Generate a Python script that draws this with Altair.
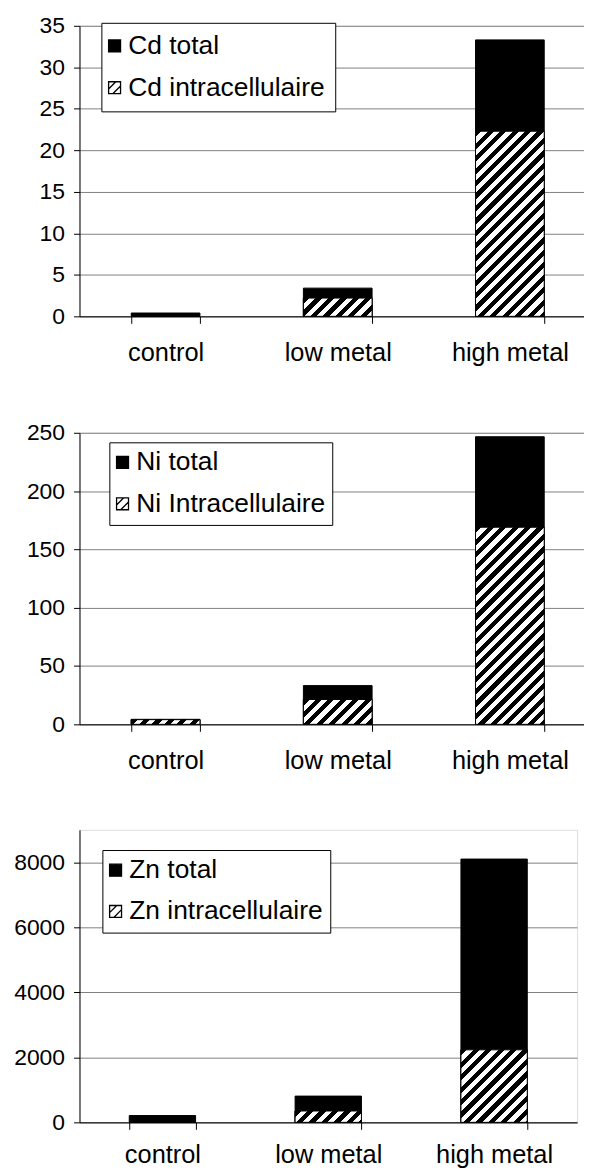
import altair as alt

# ---------------- data ----------------
categories = ["control", "low metal", "high metal"]

cd_total = [0.4, 3.4, 33.3]
cd_intra = [0.0, 2.2, 22.3]
cd_labels = ["Cd total", "Cd intracellulaire"]
cd_ticks = [0, 5, 10, 15, 20, 25, 30, 35]

ni_total = [4.3, 33.2, 246.6]
ni_intra = [4.0, 21.3, 169.0]
ni_labels = ["Ni total", "Ni Intracellulaire"]
ni_ticks = [0, 50, 100, 150, 200, 250]

zn_total = [210, 808, 8100]
zn_intra = [0, 350, 2232]
zn_labels = ["Zn total", "Zn intracellulaire"]
zn_ticks = [0, 2000, 4000, 6000, 8000]

FONT = "Liberation Sans"
HATCH_SYMBOL = "M-1,-1H1V1H-1Z M-1,0.2L0.2,-1 M-0.3,1L1,-0.3"


def hatch_fill(w, h, period=12.5):
    """Diagonal '/' stripes as a hard-stop linear gradient for a w x h rect."""
    L = w + h
    c = L / (w * w + h * h)
    stops = []
    pos, black, half = 0.0, True, period / 2.0
    while pos < L - 1e-9:
        nxt = min(pos + half, L)
        col = "black" if black else "white"
        stops.append({"offset": round(pos / L, 5), "color": col})
        stops.append({"offset": round(nxt / L, 5), "color": col})
        pos, black = nxt, not black
    return {"gradient": "linear", "x1": 0, "y1": 0,
            "x2": round(c * w, 5), "y2": round(c * h, 5), "stops": stops}


def panel(total, intra, labels, dmax, ticks, width, height, lx, ly,
          step, p_in, p_out, align, x_lab_pad, leg_pad, sym_off, row_pad):
    bw = step * (1 - p_in)
    rows = []
    for c, v in zip(categories, total):
        rows.append({"cat": c, "series": labels[0], "value": v})
    for c, v in zip(categories, intra):
        h = v / dmax * height
        r = {"cat": c, "series": labels[1], "value": v}
        r["grad"] = hatch_fill(bw, h) if h > 0.5 else "white"
        rows.append(r)
    data = alt.Data(values=rows)

    x = alt.X("cat:N", sort=categories,
              scale=alt.Scale(paddingInner=p_in, paddingOuter=p_out, align=align),
              axis=alt.Axis(title=None, labelAngle=0, tickBand="extent", tickSize=7,
                            labelPadding=x_lab_pad, labelFontSize=25.5, labelFont=FONT,
                            labelColor="black", domainColor="black", tickColor="black",
                            grid=False))
    y = alt.Y("value:Q", stack=None,
              scale=alt.Scale(domain=[0, dmax], nice=False, zero=True),
              axis=alt.Axis(title=None, values=ticks, format="d", tickSize=6,
                            labelPadding=9, labelFontSize=23, labelFont=FONT,
                            labelColor="black", domainColor="black", tickColor="black",
                            grid=True, gridColor="#808080", gridWidth=1))

    base = alt.Chart(data)
    bars = base.mark_bar(stroke="black", strokeWidth=1).encode(
        x=x, y=y,
        fill=alt.Fill("series:N",
                      scale=alt.Scale(domain=labels, range=["black", "white"]),
                      legend=alt.Legend(title=None, orient="none", legendX=lx, legendY=ly,
                                        symbolType=HATCH_SYMBOL, symbolSize=144,
                                        symbolStrokeColor="black", symbolStrokeWidth=1.3,
                                        symbolOpacity=1, symbolOffset=sym_off, labelLimit=400,
                                        labelFontSize=26.5, labelFont=FONT, labelColor="black",
                                        labelOffset=0.5, rowPadding=row_pad,
                                        padding=leg_pad, strokeColor="black",
                                        fillColor="white")),
        order=alt.Order("series:N", sort="descending"),
    )
    hatch = base.transform_filter(alt.datum.series == labels[1]).mark_bar(
        stroke="black", strokeWidth=1
    ).encode(x=x, y=y, fill=alt.Fill("grad:N", scale=None))

    return alt.layer(bars, hatch).properties(width=width, height=height)


# panels 1 and 2: 173px category step (the original is cut at the right edge)
p1 = panel(cd_total, cd_intra, cd_labels, 35, cd_ticks, 513, 292, 22, -3,
           173, 0.601, 0.2832, 0.5308, 17.85, 10, -10, 15)
p2 = panel(ni_total, ni_intra, ni_labels, 250, ni_ticks, 513, 293, 30, 9.6,
           173, 0.601, 0.2832, 0.5308, 17.85, 7, -7, 14.5)
p3 = panel(zn_total, zn_intra, zn_labels, 9000, zn_ticks, 500, 294, 23, 20.3,
           500 / 3.0, 0.6, 0.3, 0.5, 13.3, 7, -7, 14.5)

chart = (
    alt.vconcat(p1, p2, p3, spacing=54)
    .resolve_scale(fill="independent", x="independent", y="independent")
    .resolve_legend(fill="independent")
    .properties(padding={"left": 4.85, "top": 3, "right": -7, "bottom": -1})
    .configure_view(stroke=None)
    .configure(font=FONT)
)

chart.save("out.html", embed_options={"renderer": "svg", "actions": False})
